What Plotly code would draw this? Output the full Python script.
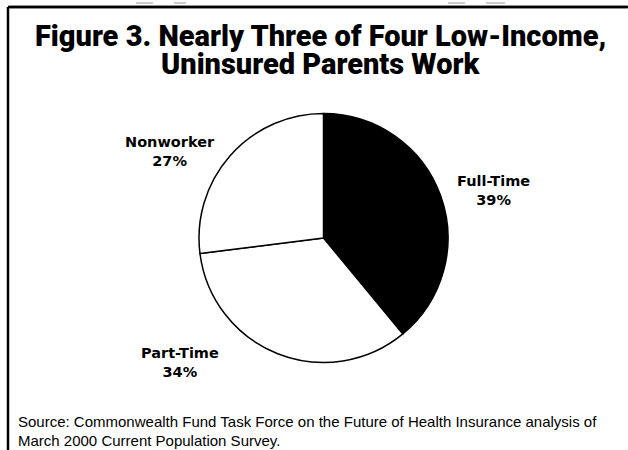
import plotly.graph_objects as go

# Share of low-income, uninsured parents by work status
categories = ["Full-Time", "Part-Time", "Nonworker"]
shares = [39, 34, 27]
fills = ["#000000", "#ffffff", "#ffffff"]

W, H = 628, 450

fig = go.Figure()
fig.add_trace(go.Pie(
    labels=categories,
    values=shares,
    sort=False,
    direction="clockwise",
    rotation=0,
    textinfo="none",
    hoverinfo="label+percent",
    marker=dict(colors=fills, line=dict(color="#000000", width=1.5)),
    domain=dict(x=[199 / W, 448 / W], y=[87.5 / H, 336.5 / H]),
    showlegend=False,
))

# Frame: top rule and left rule
fig.add_shape(type="line", xref="paper", yref="paper",
              x0=8 / W, x1=628 / W, y0=1 - 7 / H, y1=1 - 7 / H,
              line=dict(color="#000000", width=2.5))
fig.add_shape(type="line", xref="paper", yref="paper",
              x0=8 / W, x1=8 / W, y0=0, y1=1 - 7 / H,
              line=dict(color="#000000", width=2.5))
# Top rule again as an arrowless annotation line, drawn in the top layer
fig.add_annotation(
    x=628 / W, y=1 - 7 / H, xref="paper", yref="paper",
    ax=-620, ay=0, axref="pixel", ayref="pixel",
    text="", showarrow=True, arrowhead=0, arrowwidth=2.5,
    arrowcolor="#000000", standoff=0, startstandoff=0,
)
# Small marks above the top rule
for a, b in [(136, 153), (174, 186), (448, 465), (486, 505)]:
    fig.add_shape(type="line", xref="paper", yref="paper",
                  x0=a / W, x1=b / W, y0=1 - 3 / H, y1=1 - 3 / H,
                  line=dict(color="#bbbbbb", width=1.5))


def px_note(x, y, text, font, xanchor="center"):
    fig.add_annotation(
        x=x / W, y=1 - y / H, xref="paper", yref="paper",
        xanchor=xanchor, yanchor="middle",
        text=text, showarrow=False, font=font,
        align=xanchor if xanchor != "center" else "center",
    )


label_font = dict(family="DejaVu Sans", size=14.5, color="#000000", weight=700)
label_pos = {
    "Full-Time": (493, 191),
    "Part-Time": (180, 362),
    "Nonworker": (170, 151),
}
for name, val in zip(categories, shares):
    x, y = label_pos[name]
    px_note(x, y, f"{name}<br>{val}%", label_font)

title_font = dict(family="Roboto", size=29, color="#000000", weight=900)
px_note(320, 36, "Figure 3. Nearly Three of Four Low-Income,", title_font)
px_note(320, 64, "Uninsured Parents Work", title_font)

src_font = dict(family="Liberation Sans", size=15, color="#000000")
px_note(16, 421, "Source: Commonwealth Fund Task Force on the Future of Health Insurance analysis of",
        src_font, xanchor="left")
px_note(16, 440, "March 2000 Current Population Survey.", src_font, xanchor="left")

fig.update_layout(
    width=W, height=H,
    margin=dict(l=0, r=0, t=0, b=0),
    paper_bgcolor="#ffffff",
    plot_bgcolor="#ffffff",
)

fig.write_html("out.html")
